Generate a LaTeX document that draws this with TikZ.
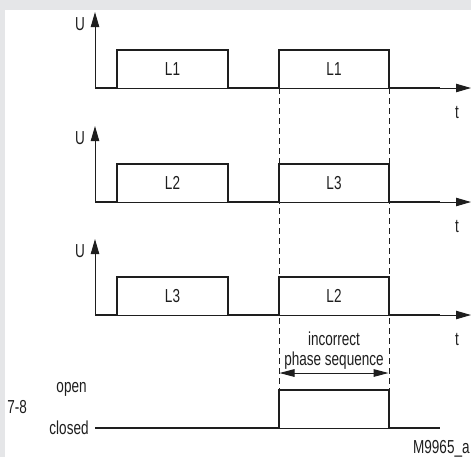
\documentclass[tikz,border=0pt]{standalone}
\usepackage{fontspec}
\setmainfont[FakeStretch=0.72]{Liberation Sans}
\usetikzlibrary{arrows.meta,positioning}
\definecolor{framegray}{RGB}{229,230,232}
\definecolor{inkblack}{RGB}{30,30,30}

\begin{document}
\begin{tikzpicture}[
    x=0.5pt,y=-0.5pt,
    every node/.style={font=\fontsize{9.4}{9}\selectfont,inner sep=0pt,text=inkblack},
    axis/.style={draw=inkblack,line width=0.5pt,-{Triangle[length=7.5pt,width=4.2pt]}},
    signal/.style={draw=inkblack,line width=1.4pt,line join=miter},
    guide/.style={draw=inkblack,line width=0.45pt,dash pattern=on 3pt off 2pt},
    span/.style={draw=inkblack,line width=0.5pt,{Triangle[length=7.5pt,width=3.8pt]}-{Triangle[length=7.5pt,width=3.8pt]}}
  ]
    \useasboundingbox (0,0) rectangle (471,457);
    \fill[framegray] (0,0) rectangle (471,457);
    \fill[white] (5,10) rectangle (471,457);

    \foreach \n/\y/\first/\second in {1/88/L1/L1, 2/202/L2/L3, 3/315/L3/L2} {
      \coordinate (o\n) at (95,\y);
      \coordinate (u\n) at (95,\y-76);
      \coordinate (t\n) at (471,\y);
      \coordinate (a\n) at (279,\y);
      \coordinate (b\n) at (389,\y);
      \draw[axis] (o\n) -- (u\n);
      \draw[axis] (o\n) -- (t\n);
      \draw[signal] (o\n) -- (117,\y) -- (117,\y-38) -- (228,\y-38) -- (228,\y)
        -- (a\n) -- ++(0,-38) -- (389,\y-38) -- (b\n) -- (440,\y);
      \node (U\n) at (80,\y-64) {U};
      \node (p\n) at (172.5,\y-19) {\first};
      \node (q\n) at (334,\y-19) {\second};
      \node (tl\n) at (457,\y+24) {t};
    }

    \coordinate (c0) at (95,428);
    \coordinate (c1) at (440,428);
    \coordinate (r1) at (279,390);
    \coordinate (r2) at (389,390);
    \draw[inkblack,line width=0.5pt] (c0) -- (c1);
    \draw[signal] (c0) -- (279,428) -- (r1) -- (r2) -- (389,428) -- (c1);
    \node[anchor=east] (closed) at (89,428) {closed};
    \node[anchor=east] (open) at (87,389) {open};
    \node[anchor=west] (relay) at (7,407) {7-8};

    \draw[guide] (a1) -- (r1);
    \draw[guide] (b1) -- (r2);
    \coordinate (s1) at (279.5,373);
    \coordinate (s2) at (388.5,373);
    \draw[span] (s1) -- (s2);
    \node[align=center] (phase) at (334,351) {incorrect\\[1pt]phase sequence};
    \node[anchor=east] (ref) at (470,449) {M9965\_a};
\end{tikzpicture}
\end{document}
